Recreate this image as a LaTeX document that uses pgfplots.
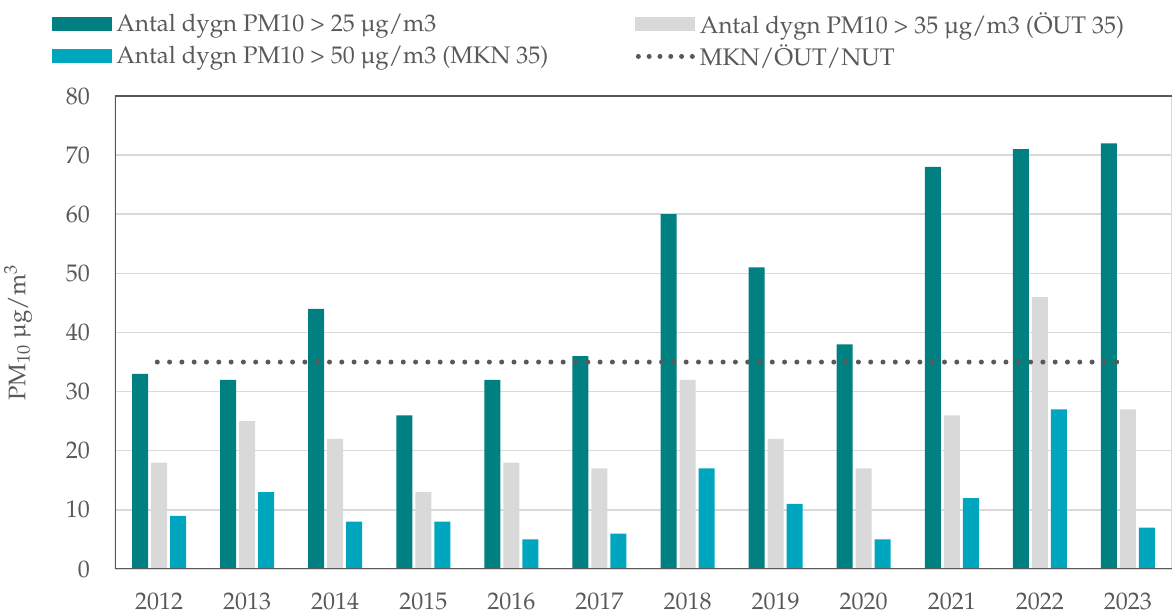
\documentclass[border=0pt]{standalone}
\usepackage[T1]{fontenc}
\usepackage{mathpazo}
\usepackage{textcomp}
\usepackage{pgfplots}
\pgfplotsset{compat=1.18}
\definecolor{teal1}{RGB}{0,128,128}
\definecolor{lgray}{RGB}{217,217,217}
\definecolor{cyan1}{RGB}{0,166,190}
\definecolor{txt}{RGB}{89,89,89}
\begin{document}
\begin{tikzpicture}[font=\fontsize{12bp}{14.4bp}\selectfont]
\begin{axis}[name=ax, scale only axis, width=528.5bp, height=236.5bp,
  xmin=-0.5, xmax=11.5, ymin=0, ymax=80,
  xtick={0,1,2,3,4,5,6,7,8,9,10,11},
  xticklabels={2012,2013,2014,2015,2016,2017,2018,2019,2020,2021,2022,2023},
  ytick={0,10,20,30,40,50,60,70,80},
  ymajorgrids, grid style={line width=0.75bp, draw=lgray},
  major tick length=0pt,
  axis line style={draw=none},
  tick label style={text=txt},
  /pgf/number format/assume math mode=true,
  yticklabel style={xshift=-9bp},
  xticklabel style={yshift=-8.3bp},
  ylabel={PM\textsubscript{10} \textmu g/m\textsuperscript{3}},
  ylabel style={at={(axis description cs:-0.0918,0.5)}, anchor=center, text=txt},
  legend columns=2,
  legend cell align=left,
  legend style={at={(axis description cs:-0.0596,1.186)}, anchor=north west,
    draw=none, fill=none, inner sep=0pt, row sep=0bp, text=txt,
    /tikz/every even column/.append style={column sep=0bp}},
]
\addplot[ybar, bar width=8bp, bar shift=-9.5bp, fill=teal1, draw=none,
  legend image code/.code={\fill[teal1] (0bp,-3.5bp) rectangle (30bp,3.5bp);}]
  coordinates {(0,33) (1,32) (2,44) (3,26) (4,32) (5,36) (6,60) (7,51) (8,38) (9,68) (10,71) (11,72)};
\addlegendentry{Antal dygn PM10 > 25 \textmu g/m3}
\addplot[ybar, bar width=8bp, bar shift=0bp, fill=lgray, draw=none,
  legend image code/.code={\fill[lgray] (0bp,-3.5bp) rectangle (30bp,3.5bp);}]
  coordinates {(0,18) (1,25) (2,22) (3,13) (4,18) (5,17) (6,32) (7,22) (8,17) (9,26) (10,46) (11,27)};
\addlegendentry{Antal dygn PM10 > 35 \textmu g/m3 (\"OUT 35)}
\addplot[ybar, bar width=8bp, bar shift=9.5bp, fill=cyan1, draw=none,
  legend image code/.code={\fill[cyan1] (0bp,-3.5bp) rectangle (30bp,3.5bp);}]
  coordinates {(0,9) (1,13) (2,8) (3,8) (4,5) (5,6) (6,17) (7,11) (8,5) (9,12) (10,27) (11,7)};
\addlegendentry{\makebox[257.5bp][l]{Antal dygn PM10 > 50 \textmu g/m3 (MKN 35)}}
\addplot[txt, line width=2.5bp, line cap=round, dash pattern=on 0pt off 6.15bp,
  legend image code/.code={\draw[txt, line width=2.5bp, line cap=round, dash pattern=on 0pt off 5.4bp] (1.5bp,0) -- (29bp,0);}]
  coordinates {(-0.02,35) (10.89,35)};
\addlegendentry{MKN/\"OUT/NUT}
\draw[line width=0.75bp, lgray] (rel axis cs:1,0) -- (rel axis cs:1,1);
\draw[line width=1bp, txt] (rel axis cs:1,1) -- (rel axis cs:0,1) -- (rel axis cs:0,0) -- (rel axis cs:1,0);
\end{axis}
\pgfresetboundingbox
\path ([xshift=-57.5bp, yshift=-22.5bp]ax.south west) rectangle ([yshift=48bp]ax.north east);
\end{tikzpicture}
\end{document}
